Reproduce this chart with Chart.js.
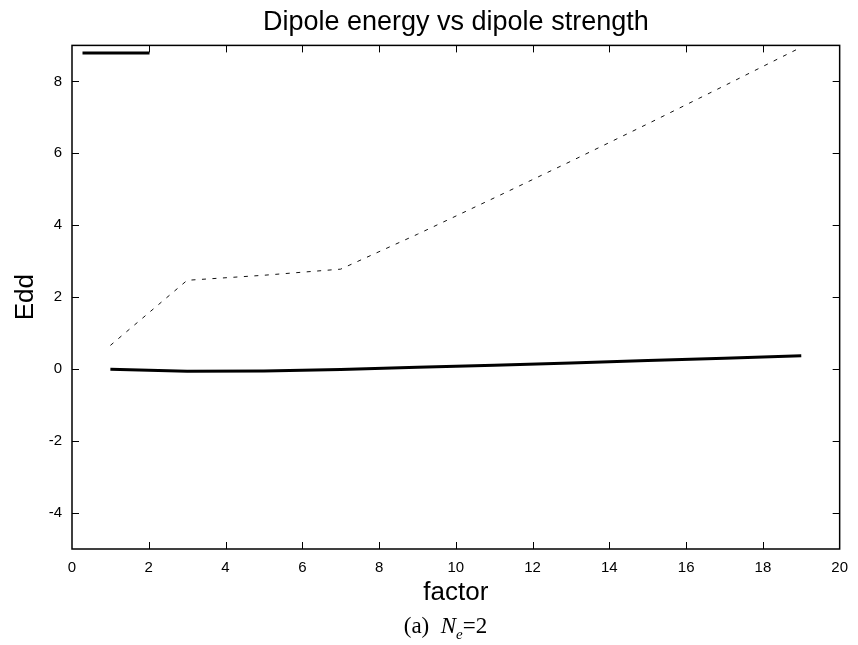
<!DOCTYPE html>
<html>
<head>
<meta charset="utf-8">
<script src="https://cdn.jsdelivr.net/npm/chart.js@4/dist/chart.umd.min.js"></script>
<style>
  html, body { margin: 0; padding: 0; background: #fff; }
  #wrap { position: relative; width: 858px; height: 645px; }
  #caption { position: absolute; left: 0; width: 858px; top: 613px; text-align: center; line-height: 26px;
    font-family: "Liberation Serif", "Times New Roman", serif; font-size: 23px; color: #000; padding-left: 33px; box-sizing: border-box; }
  #caption i sub { font-size: 15px; }
</style>
</head>
<body>
<div id="wrap">
  <canvas id="c" width="858" height="645"></canvas>
  <div id="caption">(a)&nbsp;&nbsp;<i>N<sub>e</sub></i>=2</div>
</div>
<script>
const factors = [1, 3, 5, 7, 9, 11, 13, 15, 17, 19];
const eddSolid = [0.00, -0.06, -0.05, -0.01, 0.05, 0.11, 0.17, 0.24, 0.30, 0.37];
const eddDashed = [0.66, 2.47, 2.61, 2.78, 3.75, 4.76, 5.78, 6.82, 7.88, 8.95];
const xTickValues = [0, 2, 4, 6, 8, 10, 12, 14, 16, 18, 20];
const yTickValues = [-4, -2, 0, 2, 4, 6, 8];

const toPoints = ys => factors.map((f, i) => ({ x: f, y: ys[i] }));

const framePlugin = {
  id: 'frame',
  afterDraw(chart) {
    const { ctx, chartArea: a, scales: { x, y } } = chart;
    ctx.save();
    ctx.strokeStyle = '#000';
    const line = (x1, y1, x2, y2) => { ctx.beginPath(); ctx.moveTo(x1, y1); ctx.lineTo(x2, y2); ctx.stroke(); };
    ctx.lineWidth = 1;
    x.ticks.forEach(t => {
      const px = Math.round(x.getPixelForValue(t.value)) + 0.5;
      if (px <= a.left + 2 || px >= a.right - 2) return;
      line(px, a.bottom, px, a.bottom - 7);
      line(px, a.top, px, a.top + 7);
    });
    y.ticks.forEach(t => {
      const py = Math.round(y.getPixelForValue(t.value)) + 0.5;
      if (py <= a.top + 2 || py >= a.bottom - 2) return;
      line(a.left, py, a.left + 7, py);
      line(a.right, py, a.right - 7, py);
    });
    ctx.lineWidth = 1.5;
    ctx.strokeRect(a.left, a.top, a.right - a.left, a.bottom - a.top);
    // legend sample (key entry without text)
    ctx.lineWidth = 3;
    line(a.left + 10.5, a.top + 7.5, a.left + 77.5, a.top + 7.5);
    ctx.restore();
  }
};

new Chart(document.getElementById('c'), {
  type: 'line',
  data: {
    datasets: [
      { label: 'Edd', data: toPoints(eddSolid), borderColor: '#000', borderWidth: 3,
        pointRadius: 0, tension: 0, fill: false },
      { label: 'Edd (dashed)', data: toPoints(eddDashed), borderColor: '#111', borderWidth: 1,
        borderDash: [4, 6.5], pointRadius: 0, tension: 0, fill: false }
    ]
  },
  options: {
    responsive: false,
    animation: false,
    layout: { padding: { left: 0, right: 16, top: 0, bottom: 37 } },
    plugins: {
      legend: { display: false },
      tooltip: { enabled: false },
      title: {
        display: true, text: 'Dipole energy vs dipole strength', color: '#000',
        font: { family: 'Liberation Sans', size: 27, weight: 'normal' },
        padding: { top: 6, bottom: 7 }, fullSize: false
      }
    },
    scales: {
      x: {
        type: 'linear', min: 0, max: 20,
        afterBuildTicks: s => { s.ticks = xTickValues.map(v => ({ value: v })); },
        afterFit: s => { s.height = 59; },
        grid: { display: false, drawTicks: false },
        border: { display: false },
        ticks: { color: '#000', padding: 10, font: { family: 'Liberation Sans', size: 15 }, maxRotation: 0 },
        title: { display: true, text: 'factor', color: '#000', padding: { top: 0, bottom: 0 },
          font: { family: 'Liberation Sans', size: 26 } }
      },
      y: {
        type: 'linear', min: -5, max: 9,
        afterBuildTicks: s => { s.ticks = yTickValues.map(v => ({ value: v })); },
        afterFit: s => { s.width = 72; },
        grid: { display: false, drawTicks: false },
        border: { display: false },
        ticks: { color: '#000', padding: 10, font: { family: 'Liberation Sans', size: 15 } },
        title: { display: true, text: 'Edd', color: '#000', padding: { top: 10, bottom: 0 },
          font: { family: 'Liberation Sans', size: 26 } }
      }
    }
  },
  plugins: [framePlugin]
});
</script>
</body>
</html>
